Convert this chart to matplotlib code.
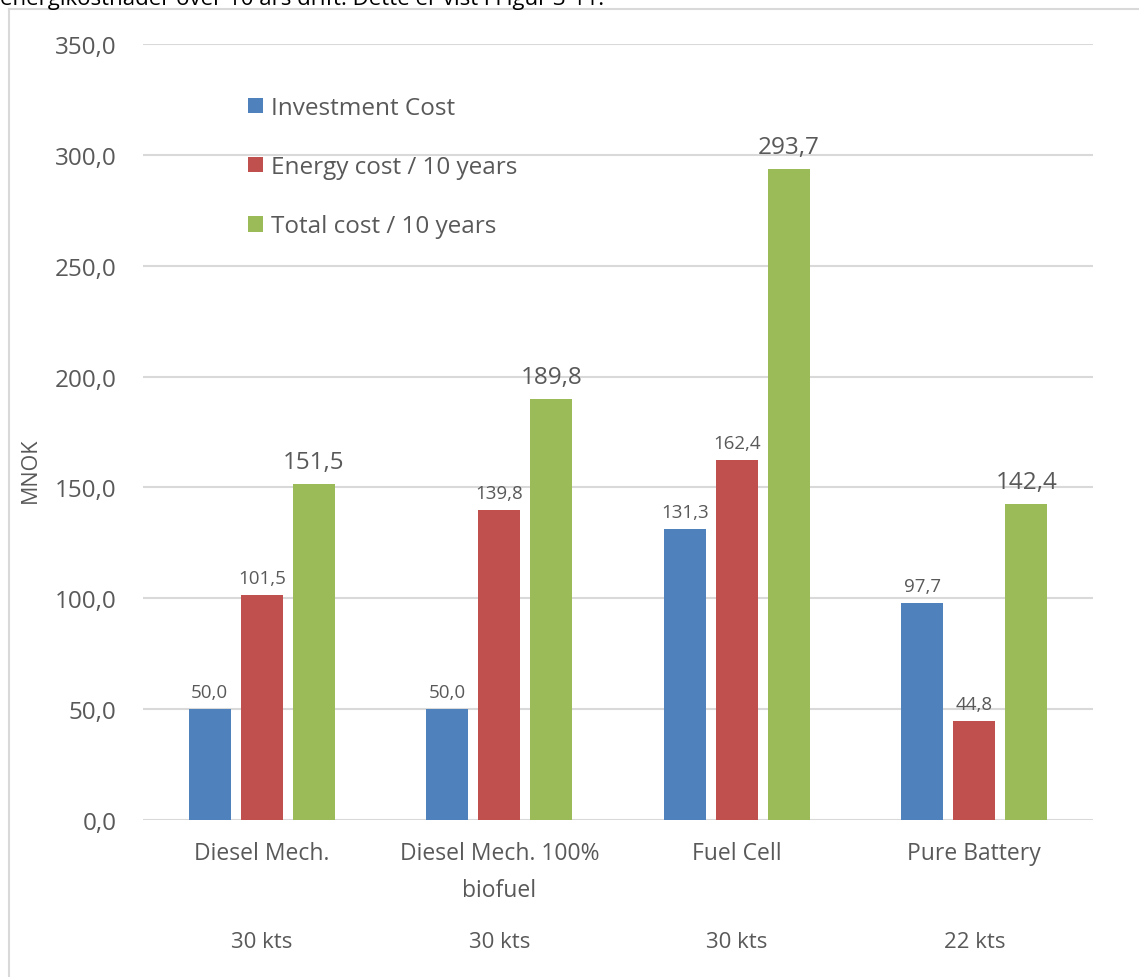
import matplotlib
matplotlib.use("Agg")
import matplotlib.pyplot as plt
from matplotlib.lines import Line2D
import numpy as np

plt.rcParams['font.family'] = ['Open Sans', 'DejaVu Sans']

# Data
categories = ["Diesel Mech.", "Diesel Mech. 100%\nbiofuel", "Fuel Cell", "Pure Battery"]
speeds = ["30 kts", "30 kts", "30 kts", "22 kts"]
series_names = ["Investment Cost", "Energy cost / 10 years", "Total cost / 10 years"]
investment = [50.0, 50.0, 131.3, 97.7]
energy = [101.5, 139.8, 162.4, 44.8]
total = [151.5, 189.8, 293.7, 142.4]
yticks = [0, 50, 100, 150, 200, 250, 300, 350]

colors = ["#4F81BD", "#C0504D", "#9BBB59"]
text_color = "#595959"
grid_color = "#D9D9D9"

W, H = 1139, 978
fig = plt.figure(figsize=(W / 100, H / 100), dpi=100)
ax = fig.add_axes([143 / W, 1 - 821 / H, (1093 - 143) / W, (821 - 45) / H])

x = np.arange(len(categories))
bar_w = 0.177
step = 0.219
series = [investment, energy, total]
label_sizes = [13.5, 13.5, 17.5]
label_pads = [8, 8, 10]
for i, (vals, col) in enumerate(zip(series, colors)):
    pos = x + (i - 1) * step
    bars = ax.bar(pos, vals, bar_w, color=col, label=series_names[i], zorder=3)
    for b, v in zip(bars, vals):
        ax.annotate(f"{v:.1f}".replace(".", ","),
                    (b.get_x() + b.get_width() / 2, v),
                    xytext=(0, label_pads[i] * 0.72), textcoords="offset points",
                    ha="center", va="bottom", fontsize=label_sizes[i], color=text_color)

ax.set_xlim(-0.5, len(categories) - 0.5)
ax.set_ylim(0, 350)
ax.set_yticks(yticks)
ax.set_yticklabels([f"{v:.1f}".replace(".", ",") for v in yticks],
                   fontsize=17.5, color=text_color)
ax.set_xticks(x)
ax.set_xticklabels(categories, fontsize=16.5, color=text_color, linespacing=1.75)
ax.tick_params(axis="y", length=0, pad=19)
ax.tick_params(axis="x", length=0, pad=15)
ax.grid(axis="y", color=grid_color, linewidth=1.5, zorder=0)
for s in ax.spines.values():
    s.set_visible(False)

# Speed row below categories
for xi, sp in zip(x, speeds):
    ax.text(xi, -(943 - 821) / (821 - 45) * 350, sp, ha="center", va="center",
            fontsize=16, color=text_color)

fig.text(30 / W, 1 - 470 / H, "MNOK", rotation=90, ha="center", va="center",
         fontsize=15.5, color=text_color)

leg = ax.legend(loc="upper left", bbox_to_anchor=(248 / W, 1 - 97 / H),
                bbox_transform=fig.transFigure, frameon=False, fontsize=17.5,
                handlelength=0.6, handleheight=0.6, handletextpad=0.35,
                labelspacing=1.45, borderpad=0, borderaxespad=0)
for t in leg.get_texts():
    t.set_color(text_color)

# Frame around the chart area
fig.add_artist(Line2D([9 / W, 1], [1 - 10 / H, 1 - 10 / H], transform=fig.transFigure,
                      color="#D9D9D9", linewidth=1.5))
fig.add_artist(Line2D([9 / W, 9 / W], [0, 1 - 10 / H], transform=fig.transFigure,
                      color="#D9D9D9", linewidth=1.5))

# Preceding body text line
fig.text(0, 1 - 5 / H, "energikostnader over 10 års drift. Dette er vist i Figur 3-11.",
         ha="left", va="baseline", fontsize=16, color="#000000")

fig.savefig("out.png", dpi=100, facecolor="white")
